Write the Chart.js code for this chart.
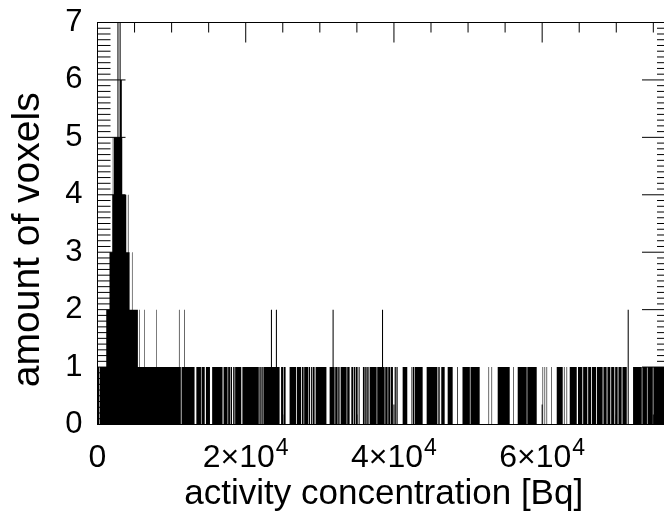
<!DOCTYPE html>
<html>
<head>
<meta charset="utf-8">
<script src="https://cdn.jsdelivr.net/npm/chart.js@4"></script>
<style>
  html, body { margin: 0; padding: 0; background: #fff; overflow: hidden; }
  #wrap { width: 664px; height: 513px; overflow: hidden; }
</style>
</head>
<body>
<div id="wrap"><canvas id="hist" width="672" height="513"></canvas></div>
<script>
// histogram bins: bin i starts at binStart[i] (Bq) and keeps binCount[i] voxels up to the next start
const binStart = [
  0, 230, 310, 1180, 1620, 1990, 2060, 2120, 2200, 2690,
  2830, 2980, 3120, 3280, 3340, 3880, 4100, 4180, 4330, 4650,
  4720, 5450, 5640, 5710, 6320, 6390, 7900, 7970, 10990, 11070,
  11245, 11340, 11720, 11800, 13095, 13340, 13960, 14040, 14470, 14630,
  15175, 15470, 16875, 17010, 17550, 17630, 17875, 17955, 18145, 18305,
  18495, 18575, 19400, 19550, 21765, 21845, 22030, 22115, 22300, 22385,
  23400, 23540, 24070, 24210, 24570, 24770, 25030, 25110, 25380, 25920,
  26785, 26890, 27470, 27580, 27810, 27890, 28420, 28500, 28690, 28820,
  28970, 29050, 29295, 29430, 30890, 31320, 31720, 31860, 31995, 32075,
  32400, 32480, 32670, 32805, 33615, 33695, 34020, 34250, 34505, 34590,
  34750, 34830, 35100, 35235, 35370, 35815, 36045, 36125, 36315, 36395,
  36585, 36720, 37665, 37745, 38390, 38530, 38745, 38825, 39150, 39230,
  39475, 39555, 39865, 40095, 40255, 40340, 40500, 41175, 41800, 42365,
  42470, 42550, 42715, 42795, 43875, 44415, 45820, 45900, 46040, 46120,
  46220, 46385, 46845, 47250, 47925, 48530, 48625, 49250, 50245, 50330,
  51570, 52760, 52840, 53165, 53245, 54000, 55620, 56120, 56200, 56700,
  57915, 57995, 59265, 60050, 60130, 60320, 60400, 60590, 60670, 61250,
  61330, 61965, 62775, 62935, 63020, 63290, 63370, 63720, 64665, 64840,
  65420, 65530, 66095, 66205, 66595, 66705, 67270, 67380, 68160, 68270,
  68700, 68810, 69200, 69310, 69740, 69850, 70185, 70295, 70725, 70835,
  71415, 71540, 71680, 72265, 73440, 73520, 74140, 74220, 74930, 75010
];
const binCount = [
  1, 0, 1, 2, 3, 4, 5, 4, 5, 7,
  5, 7, 6, 5, 4, 3, 4, 3, 2, 3,
  2, 1, 2, 1, 2, 1, 2, 1, 2, 1,
  0, 1, 2, 1, 0, 1, 0, 1, 0, 1,
  0, 1, 0, 1, 0, 1, 0, 1, 0, 1,
  0, 1, 0, 1, 0, 1, 0, 1, 0, 1,
  2, 1, 2, 1, 0, 1, 0, 1, 0, 1,
  0, 1, 0, 1, 0, 1, 0, 1, 0, 1,
  0, 1, 0, 1, 0, 1, 2, 1, 0, 1,
  0, 1, 0, 1, 0, 1, 0, 1, 0, 1,
  0, 1, 0, 1, 0, 1, 0, 1, 0, 1,
  0, 1, 0, 1, 2, 1, 0, 1, 0, 1,
  0, 1, 0, 1, 0, 1, 0, 1, 0, 1,
  0, 1, 0, 1, 0, 1, 0, 1, 0, 1,
  0, 1, 0, 1, 0, 1, 0, 1, 0, 1,
  0, 1, 0, 1, 0, 1, 0, 1, 0, 1,
  0, 1, 0, 1, 0, 1, 0, 1, 0, 1,
  0, 1, 0, 1, 0, 1, 0, 1, 0, 1,
  0, 1, 0, 1, 0, 1, 0, 1, 0, 1,
  0, 1, 0, 1, 0, 1, 0, 1, 0, 1,
  0, 2, 0, 1, 0, 1, 0, 1, 0, 1
];
const xMax = 77250;
const xTickValues = [0, 20000, 40000, 60000];
const xTickLabels = ['0', '2×10', '4×10', '6×10'];
const xTickExponents = ['', '4', '4', '4'];
const yTickValues = [0, 1, 2, 3, 4, 5, 6, 7];

const points = binStart.map((x, i) => ({ x, y: binCount[i] }));
points.push({ x: xMax, y: binCount[binCount.length - 1] });

const font = "'Liberation Sans', Arial, Helvetica, sans-serif";

// box frame with inward ticks on all four sides, minor every 5000 Bq / 0.1 voxel
const boxTicks = {
  id: 'boxTicks',
  afterDatasetsDraw(chart) {
    const { ctx, chartArea: a, scales: { x, y } } = chart;
    ctx.save();
    ctx.strokeStyle = '#000';
    ctx.lineWidth = 1;
    ctx.beginPath();
    for (let v = 0; v <= xMax; v += 5000) {
      const px = x.getPixelForValue(v);
      const len = v % 20000 === 0 ? 20 : 10;
      ctx.moveTo(px, a.top); ctx.lineTo(px, a.top + len);
      ctx.moveTo(px, a.bottom); ctx.lineTo(px, a.bottom - len);
    }
    for (let k = 0; k <= 70; k++) {
      const py = y.getPixelForValue(k / 10);
      const len = k % 10 === 0 ? 28 : 13;
      ctx.moveTo(a.left, py); ctx.lineTo(a.left + len, py);
      ctx.moveTo(a.right, py); ctx.lineTo(a.right - len, py);
    }
    ctx.stroke();
    ctx.strokeRect(a.left, a.top, a.right - a.left, a.bottom - a.top);
    ctx.restore();
  }
};

// x tick labels as mantissa×10 with a raised exponent
const powerLabels = {
  id: 'powerLabels',
  afterDraw(chart) {
    const { ctx, scales: { x } } = chart;
    const base = '32px ' + font;
    const sup = '23px ' + font;
    ctx.save();
    ctx.fillStyle = '#000';
    ctx.textBaseline = 'alphabetic';
    ctx.textAlign = 'left';
    xTickValues.forEach((v, i) => {
      ctx.font = base;
      const w1 = ctx.measureText(xTickLabels[i]).width;
      ctx.font = sup;
      const w2 = xTickExponents[i] ? ctx.measureText(xTickExponents[i]).width + 1 : 0;
      const left = x.getPixelForValue(v) - (w1 + w2) / 2;
      ctx.font = base;
      ctx.fillText(xTickLabels[i], left, 467);
      if (w2) {
        ctx.font = sup;
        ctx.fillText(xTickExponents[i], left + w1 + 1, 455);
      }
    });
    ctx.restore();
  }
};

new Chart(document.getElementById('hist'), {
  type: 'line',
  data: {
    datasets: [{
      data: points,
      stepped: 'before',
      fill: 'origin',
      backgroundColor: '#000',
      borderColor: 'rgba(0,0,0,0)',
      borderWidth: 0,
      pointRadius: 0
    }]
  },
  options: {
    responsive: false,
    animation: false,
    devicePixelRatio: 1,
    layout: { padding: { top: 22.5, right: 2, left: 0, bottom: 0 } },
    plugins: { legend: { display: false }, tooltip: { enabled: false } },
    scales: {
      x: {
        type: 'linear',
        min: 0,
        max: xMax,
        afterBuildTicks: s => { s.ticks = xTickValues.map(value => ({ value })); },
        afterFit: s => { s.height = 88.5; s.paddingLeft = 0; s.paddingRight = 0; },
        grid: { display: false, drawTicks: false },
        border: { display: false },
        ticks: { display: false },
        title: {
          display: true,
          text: 'activity concentration [Bq]',
          color: '#000',
          font: { family: font, size: 35, lineHeight: 1 },
          padding: { top: 0, bottom: 1 }
        }
      },
      y: {
        min: 0,
        max: 7,
        afterBuildTicks: s => { s.ticks = yTickValues.map(value => ({ value })); },
        afterFit: s => { s.width = 97.5; s.paddingTop = 0; s.paddingBottom = 0; },
        grid: { display: false, drawTicks: false },
        border: { display: false },
        ticks: {
          padding: 15,
          color: '#000',
          font: { family: font, size: 31 }
        },
        title: {
          display: true,
          // trailing spaces push the centred label a little below the axis middle
          text: 'amount of voxels   ',
          color: '#000',
          font: { family: font, size: 39, lineHeight: 1 },
          padding: { top: 9, bottom: 0 }
        }
      }
    }
  },
  plugins: [boxTicks, powerLabels]
});
</script>
</body>
</html>
